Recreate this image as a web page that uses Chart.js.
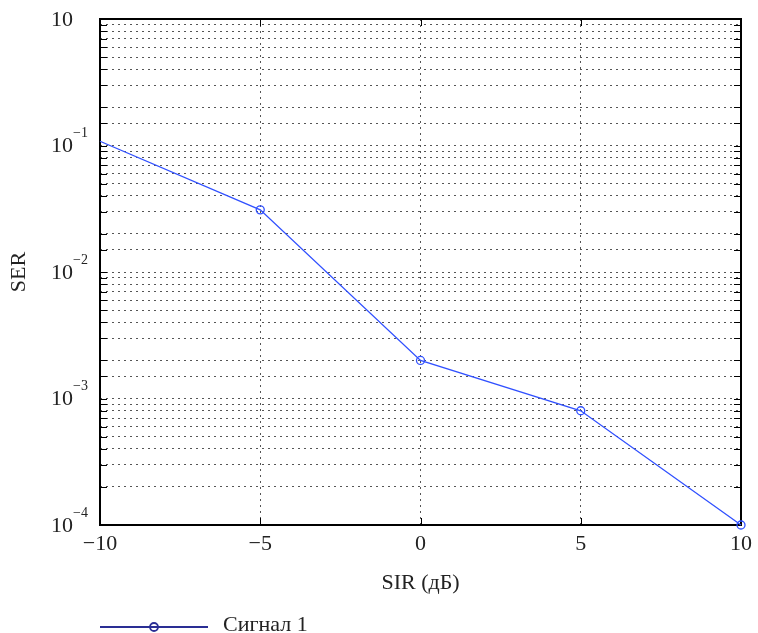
<!DOCTYPE html>
<html>
<head>
<meta charset="utf-8">
<script src="https://cdn.jsdelivr.net/npm/chart.js@4.4.0/dist/chart.umd.min.js"></script>
<style>
  html, body { margin: 0; padding: 0; background: #fff; }
  #wrap { width: 758px; height: 633px; }
</style>
</head>
<body>
<div id="wrap"><canvas id="chart" width="758" height="633"></canvas></div>
<script>
// Data
const sirDb = [-10, -5, 0, 5, 10];
const serValues = [0.108, 0.031, 0.002, 0.0008, 0.0001];

// Tick labels
const xTickValues = [-10, -5, 0, 5, 10];
const xTickLabels = ['\u221210', '\u22125', '0', '5', '10'];
const yDecades = [1, 0.1, 0.01, 0.001, 0.0001];
const yExponents = ['', '\u22121', '\u22122', '\u22123', '\u22124'];

const seriesName = 'Сигнал 1';
const FONT = "'Liberation Serif', 'DejaVu Serif', serif";

// frame, inner tick marks, y labels with superscripts, legend
const frame = {
    id: 'frame',
    beforeDatasetsDraw(chart) {
        const { ctx, chartArea: a, scales: { x, y } } = chart;
        ctx.save();
        ctx.strokeStyle = '#000';
        ctx.lineWidth = 1;
        const seg = (x1, y1, x2, y2) => {
            ctx.beginPath(); ctx.moveTo(x1, y1); ctx.lineTo(x2, y2); ctx.stroke();
        };
        y.ticks.forEach(t => {
            const py = Math.round(y.getPixelForValue(t.value)) + 0.5;
            seg(a.left, py, a.left + 7, py);
            seg(a.right - 7, py, a.right, py);
        });
        x.ticks.forEach(t => {
            const px = Math.round(x.getPixelForValue(t.value)) + 0.5;
            seg(px, a.bottom, px, a.bottom - 7);
            seg(px, a.top, px, a.top + 7);
        });
        ctx.lineWidth = 2;
        ctx.strokeRect(a.left, a.top, a.right - a.left, a.bottom - a.top);
        ctx.restore();
    },
    afterDraw(chart) {
        const { ctx, scales: { y } } = chart;
        ctx.save();
        ctx.fillStyle = '#222';
        yDecades.forEach((v, i) => {
            const py = y.getPixelForValue(v);
            ctx.font = '22px ' + FONT;
            ctx.textAlign = 'right';
            ctx.textBaseline = 'middle';
            ctx.fillText('10', 73, py + 1);
            ctx.font = '14px ' + FONT;
            ctx.textAlign = 'left';
            ctx.fillText(yExponents[i], 73, py - 12);
        });

        // legend
        const ds = chart.data.datasets[0];
        const ly = 627;
        ctx.strokeStyle = '#2a2e94';
        ctx.lineWidth = 1.8;
        ctx.beginPath(); ctx.moveTo(100, ly); ctx.lineTo(208, ly); ctx.stroke();
        ctx.beginPath(); ctx.arc(154, ly, 4, 0, Math.PI * 2); ctx.stroke();
        ctx.fillStyle = '#222';
        ctx.font = '22px ' + FONT;
        ctx.textAlign = 'left';
        ctx.textBaseline = 'middle';
        ctx.fillText(ds.label, 223, ly - 2);
        ctx.restore();
    }
};

const gridStyle = {
    color: '#555',
    lineWidth: 1,
    drawTicks: false
};

new Chart(document.getElementById('chart'), {
    type: 'line',
    data: {
        datasets: [{
            label: seriesName,
            data: sirDb.map((v, i) => ({ x: v, y: serValues[i] })),
            borderColor: '#3050ff',
            borderWidth: 1.3,
            pointRadius: [0, 4, 4, 4, 4],
            pointBorderWidth: 1.3,
            pointBorderColor: '#3050ff',
            pointBackgroundColor: 'rgba(0,0,0,0)',
            fill: false,
            tension: 0,
            clip: false
        }]
    },
    options: {
        responsive: false,
        animation: false,
        layout: { padding: { top: 19, right: 13, bottom: 37, left: 0 } },
        plugins: {
            legend: { display: false },
            tooltip: { enabled: false }
        },
        scales: {
            x: {
                type: 'linear',
                min: -10,
                max: 10,
                afterBuildTicks: s => { s.ticks = xTickValues.map(v => ({ value: v })); },
                afterFit: s => { s.height = 71; },
                grid: gridStyle,
                border: { display: false, dash: [2, 4] },
                ticks: {
                    padding: 6,
                    color: '#222',
                    font: { family: FONT, size: 22 },
                    callback: v => xTickLabels[xTickValues.indexOf(v)]
                },
                title: {
                    display: true,
                    text: 'SIR (дБ)',
                    color: '#222',
                    font: { family: FONT, size: 22 },
                    padding: { top: 0, bottom: 0 }
                }
            },
            y: {
                type: 'logarithmic',
                min: 0.0001,
                max: 1,
                afterFit: s => { s.width = 100; },
                grid: gridStyle,
                border: { display: false, dash: [2, 4] },
                ticks: { display: false, autoSkip: false },
                title: {
                    display: true,
                    text: 'SER',
                    color: '#222',
                    font: { family: FONT, size: 22 },
                    padding: { top: 6, bottom: 0 }
                }
            }
        }
    },
    plugins: [frame]
});
</script>
</body>
</html>
